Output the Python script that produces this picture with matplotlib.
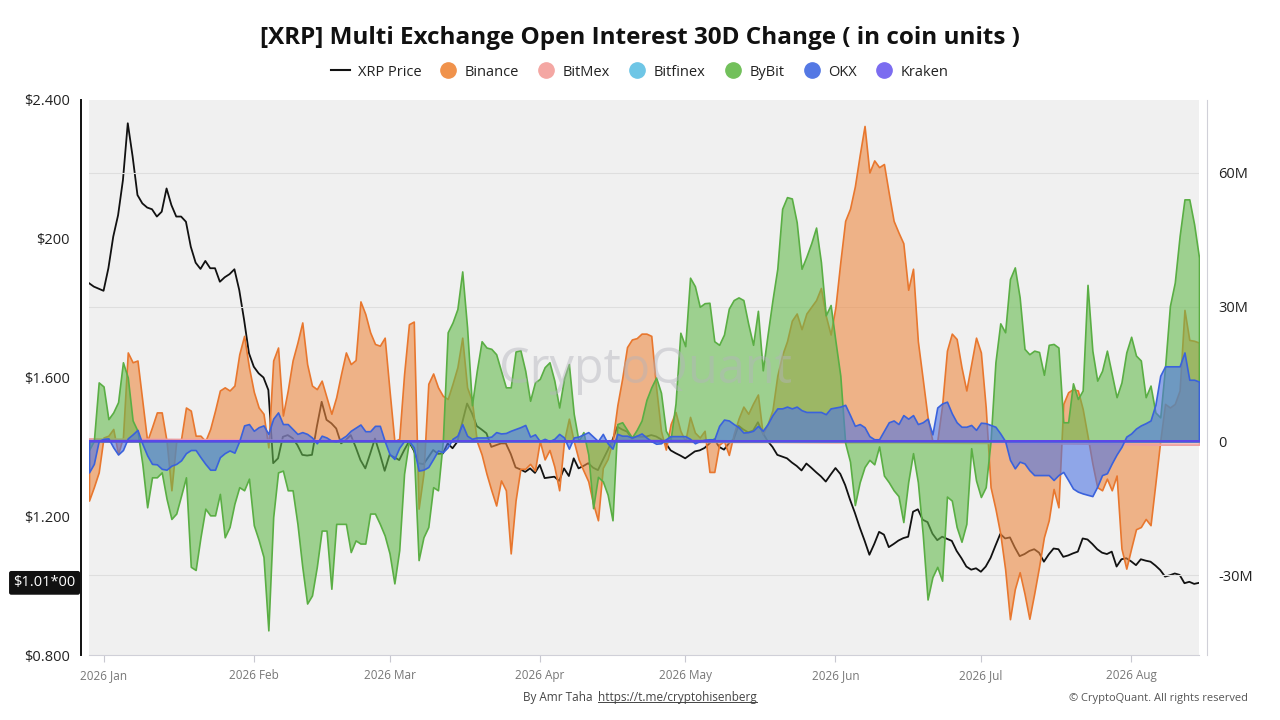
import matplotlib
matplotlib.use("Agg")
import matplotlib.pyplot as plt
import matplotlib.dates as mdates
import matplotlib.transforms as mtransforms
from matplotlib.colors import to_rgba
from matplotlib.lines import Line2D
import pandas as pd

plt.rcParams["font.family"] = ["Open Sans", "DejaVu Sans"]

# daily values, first day 2025-12-29
start = "2025-12-29"

price = [
    1.872, 1.862, 1.856, 1.850, 1.915, 2.006, 2.068, 2.169, 2.333, 2.237,
    2.126, 2.102, 2.090, 2.085, 2.064, 2.078, 2.145, 2.097, 2.064, 2.064,
    2.049, 1.977, 1.931, 1.913, 1.936, 1.915, 1.915, 1.876, 1.889, 1.898,
    1.912, 1.852, 1.766, 1.670, 1.631, 1.612, 1.600, 1.564, 1.353, 1.367,
    1.429, 1.434, 1.425, 1.405, 1.377, 1.375, 1.377, 1.458, 1.530, 1.478,
    1.468, 1.453, 1.410, 1.420, 1.434, 1.400, 1.362, 1.338, 1.380, 1.424,
    1.380, 1.331, 1.377, 1.370, 1.362, 1.390, 1.415, 1.390, 1.353, 1.350,
    1.370, 1.391, 1.380, 1.381, 1.410, 1.396, 1.415, 1.470, 1.525, 1.497,
    1.460, 1.450, 1.439, 1.400, 1.405, 1.410, 1.410, 1.380, 1.341, 1.335,
    1.328, 1.338, 1.325, 1.348, 1.310, 1.312, 1.314, 1.302, 1.338, 1.316,
    1.367, 1.338, 1.345, 1.353, 1.340, 1.333, 1.362, 1.390, 1.420, 1.458,
    1.450, 1.444, 1.424, 1.430, 1.429, 1.430, 1.434, 1.430, 1.422, 1.410,
    1.390, 1.382, 1.375, 1.367, 1.377, 1.387, 1.390, 1.397, 1.410, 1.422,
    1.400, 1.392, 1.410, 1.422, 1.461, 1.450, 1.442, 1.447, 1.471, 1.440,
    1.417, 1.400, 1.377, 1.372, 1.367, 1.355, 1.345, 1.332, 1.352, 1.340,
    1.327, 1.315, 1.300, 1.320, 1.339, 1.322, 1.290, 1.248, 1.210, 1.168,
    1.130, 1.089, 1.120, 1.155, 1.147, 1.111, 1.120, 1.130, 1.137, 1.141,
    1.213, 1.220, 1.190, 1.183, 1.150, 1.131, 1.141, 1.135, 1.129, 1.100,
    1.079, 1.055, 1.046, 1.050, 1.040, 1.055, 1.080, 1.115, 1.149, 1.136,
    1.139, 1.110, 1.085, 1.091, 1.100, 1.105, 1.095, 1.069, 1.090, 1.107,
    1.105, 1.083, 1.087, 1.093, 1.098, 1.136, 1.133, 1.120, 1.105, 1.095,
    1.091, 1.098, 1.055, 1.076, 1.079, 1.070, 1.059, 1.076, 1.072, 1.069,
    1.058, 1.045, 1.026, 1.030, 1.035, 1.031, 1.007, 1.011, 1.005, 1.008,
]

# 30D open interest change, millions of coins
binance = [
    -13.3, -10.3, -7.0, 0.8, 1.2, 2.7, -2.9, 0.8, 19.8, 17.6,
    18.0, 9.0, 0.0, 3.1, 6.4, 6.4, 0.0, -11.0, 0.0, 0.5,
    7.5, 6.8, 1.2, 1.2, 0.0, 2.7, 6.8, 11.3, 12.0, 11.3,
    12.4, 19.4, 23.5, 16.5, 11.0, 7.5, 6.1, -1.4, 18.0, 20.9,
    5.7, 11.3, 18.0, 22.0, 26.5, 17.2, 12.4, 11.6, 13.5, 9.8,
    6.1, 9.8, 15.0, 19.8, 17.2, 18.1, 31.2, 28.4, 24.3, 21.7,
    21.3, 23.1, 11.3, 0.0, 0.5, 14.9, 26.1, 26.7, -15.1, -7.3,
    12.8, 15.1, 12.0, 10.1, 9.4, 12.8, 16.5, 23.1, 12.0, 9.0,
    0.0, -3.0, -7.3, -11.0, -14.4, -8.8, -11.0, -25.1, -13.3, -6.2,
    -6.2, -5.1, -6.6, 0.0, -4.1, -2.0, -5.7, -11.0, 0.0, 5.0,
    0.0, -4.1, -6.6, -9.0, -14.0, -17.7, -6.0, -4.0, 0.0, 8.0,
    14.0, 21.0, 22.7, 23.0, 24.0, 24.0, 23.5, 12.0, 2.3, -1.9,
    3.8, 6.5, 2.3, 0.0, 5.4, 1.9, 0.8, 2.3, -6.9, -6.9,
    -0.8, 0.0, -3.1, 1.5, 5.0, 7.7, 6.1, 8.4, 10.4, 1.5,
    3.8, 6.9, 14.6, 19.2, 22.3, 26.9, 28.5, 25.0, 28.5, 30.0,
    31.5, 34.2, 28.0, 23.8, 30.0, 40.0, 49.2, 51.9, 56.9, 63.9,
    70.4, 60.0, 62.7, 61.2, 61.9, 55.4, 49.2, 46.6, 44.2, 33.8,
    38.5, 22.3, 13.9, 5.4, 0.0, 0.0, 8.0, 20.2, 24.0, 22.8,
    16.5, 11.3, 17.2, 23.1, 19.8, 7.5, -10.3, -15.1, -20.7, -28.6,
    -39.8, -33.1, -29.3, -34.1, -39.7, -34.1, -28.1, -21.5, -17.7, -10.7,
    -14.8, 8.3, 10.9, 11.6, 11.3, 7.2, 1.2, -5.0, -10.3, -11.0,
    -8.4, -11.0, -7.7, -24.0, -28.5, -24.0, -19.7, -19.2, -17.4, -18.8,
    -9.5, 0.0, 8.3, 7.5, 8.3, 11.3, 29.3, 22.6, 22.4, 22.0,
]

bybit = [
    -2.0, 0.0, 13.1, 12.2, 4.9, 6.4, 8.7, 17.6, 14.2, 4.6,
    2.3, -5.1, -14.8, -8.1, -8.1, -7.0, -12.9, -17.4, -16.2, -12.2,
    -8.1, -28.1, -28.8, -21.5, -15.1, -16.6, -16.6, -11.8, -21.5, -19.2,
    -14.0, -10.3, -11.0, -8.4, -18.8, -22.1, -25.9, -42.3, -17.0, -7.0,
    -6.6, -11.0, -11.0, -18.5, -28.1, -36.3, -34.5, -28.1, -20.0, -20.0,
    -33.0, -18.5, -18.5, -18.5, -24.8, -22.2, -22.9, -22.9, -16.2, -16.2,
    -18.5, -21.1, -25.1, -31.8, -24.4, -7.3, 0.0, -2.0, -26.6, -21.5,
    -19.2, -10.3, -11.0, 0.0, 24.3, 26.5, 29.5, 37.9, 25.4, 8.0,
    15.7, 22.3, 20.9, 20.6, 19.4, 15.7, 12.0, 12.0, 20.0, 20.3,
    15.7, 9.0, 13.1, 13.9, 16.5, 17.6, 13.5, 7.5, 14.0, 17.2,
    6.1, 0.0, 2.0, -3.0, -15.0, -8.0, -9.0, -12.0, -17.7, 3.8,
    4.2, 2.5, 0.8, 2.5, 4.6, 9.2, 12.0, 14.2, 10.8, 2.3,
    0.4, 8.4, 24.2, 21.2, 36.5, 34.6, 30.0, 30.8, 30.9, 22.3,
    21.5, 23.8, 29.6, 31.5, 32.1, 31.5, 26.2, 21.5, 29.1, 15.8,
    23.8, 31.5, 38.5, 51.9, 54.5, 54.2, 48.9, 38.5, 41.2, 44.2,
    47.7, 40.0, 28.1, 30.4, 22.3, 14.6, -0.4, -4.6, -14.3, -9.2,
    -5.8, -4.2, -5.2, -1.2, -7.7, -9.2, -11.0, -12.3, -18.1, -9.2,
    -2.7, -9.2, -20.8, -35.4, -30.4, -28.1, -31.2, -12.4, -13.3, -19.2,
    -22.5, -18.5, -1.6, -8.8, -12.5, -10.3, 0.0, 17.6, 26.3, 24.3,
    36.2, 38.8, 32.1, 20.6, 19.4, 20.2, 19.9, 14.8, 21.5, 21.7,
    20.9, 4.2, 4.2, 12.9, 9.4, 11.3, 34.9, 20.2, 13.5, 15.7,
    20.2, 15.0, 9.8, 13.1, 19.8, 23.3, 19.1, 18.0, 9.8, 12.4,
    6.4, 5.3, 16.5, 30.2, 35.4, 45.8, 54.0, 54.0, 48.4, 41.0,
]

okx = [
    -7.0, -5.1, 0.0, 0.5, 0.6, -1.4, -3.0, -2.0, 0.6, 1.5,
    2.5, -0.6, -3.2, -5.1, -5.2, -6.2, -6.4, -5.5, -5.1, -4.3,
    -2.7, -2.0, -2.0, -3.6, -5.1, -6.4, -6.4, -3.6, -2.7, -2.1,
    -2.6, 0.0, 3.5, 3.8, 2.3, 3.1, 3.5, 1.6, 5.0, 6.4,
    3.8, 3.8, 2.7, 1.6, 2.0, 1.6, 0.8, -0.5, 1.2, 0.8,
    0.1, 0.0, 0.5, 1.2, 2.3, 3.0, 3.7, 2.2, 2.2, 3.4,
    3.4, 0.0, -2.9, -4.0, -1.5, 0.0, 0.0, -1.4, -6.6, -6.4,
    -5.8, -4.0, -2.1, -2.5, -1.4, 0.5, 1.2, 3.8, 1.2, 0.5,
    0.8, 0.8, 0.8, 1.0, 2.0, 1.7, 1.8, 2.3, 2.7, 3.1,
    3.6, 1.0, 1.5, 0.0, 0.5, 0.0, 0.5, 1.6, 0.8, -1.7,
    0.8, 1.0, 1.5, 2.0, 1.0, 0.0, 1.6, -0.5, -1.7, 1.6,
    1.2, 1.2, 0.8, 1.2, 1.7, 0.8, 0.0, -0.6, -0.5, 0.4,
    1.1, 1.1, 1.1, 1.1, 0.5, -0.5, 0.0, 0.3, 0.4, 0.4,
    3.4, 4.8, 4.6, 3.8, 3.1, 1.9, 2.0, 2.3, 3.4, 2.3,
    3.8, 5.8, 7.3, 7.3, 7.7, 7.3, 7.7, 6.9, 6.5, 6.5,
    6.5, 6.5, 6.0, 7.3, 7.5, 7.7, 8.1, 5.8, 3.4, 3.8,
    3.1, 1.1, 0.4, 0.4, 2.3, 4.2, 4.6, 3.8, 5.8, 5.0,
    5.8, 3.8, 4.2, 5.0, 1.5, 7.5, 8.4, 8.8, 6.2, 4.2,
    3.2, 3.2, 3.6, 2.5, 4.1, 4.0, 3.6, 3.2, 1.7, 0.0,
    -4.2, -6.1, -4.6, -5.0, -6.5, -7.6, -7.6, -7.6, -7.6, -8.7,
    -7.6, -6.9, -8.7, -10.6, -11.3, -11.7, -12.0, -12.3, -10.2, -7.6,
    -7.2, -5.0, -3.0, -1.3, 1.0, 1.7, 2.8, 3.5, 4.0, 4.6,
    8.1, 14.6, 16.7, 16.7, 16.7, 16.7, 19.8, 13.7, 13.7, 13.3,
]

# small exchanges, read every two weeks
minor_day = [0, 14, 28, 42, 56, 70, 84, 98, 112, 126, 140, 154, 168, 182, 196, 210, 220, 229]
bitmex = [0.6, 0.5, 0.4, 0.3, 0.2, 0.1, -0.1, 0.0, -0.1, -0.2, -0.2, -0.3, -0.3, -0.4, -0.5, -0.6, -0.8, -0.8]
bitfinex = [0.1, 0.1, 0.1, 0.0, 0.0, 0.1, 0.0, 0.0, 0.0, 0.1, 0.0, 0.0, 0.1, 0.0, 0.0, 0.0, 0.0, 0.0]
kraken = [0.2, 0.2, 0.1, 0.1, 0.1, 0.1, 0.1, 0.1, 0.2, 0.2, 0.1, 0.1, 0.1, 0.1, 0.1, 0.1, 0.1, 0.1]

dates = pd.date_range(start, periods=len(price), freq="D")
minor_dates = pd.Timestamp(start) + pd.to_timedelta(minor_day, unit="D")

W, H = 1280, 720
fig = plt.figure(figsize=(12.8, 7.2), dpi=100)
ax = fig.add_axes([89 / W, 1 - 655 / H, 1110 / W, 555 / H])
ax.set_facecolor("#f0f0f0")

# price on the left axis, drawn below the areas
ax.plot(dates, price, color="#111111", lw=1.3, zorder=2)
ax.set_ylim(0.8, 2.4)
ax.set_xlim(dates[0], dates[-1])
ax.set_yticks([0.8, 1.2, 1.6, 2.0, 2.4])
ax.set_yticklabels(["$0.800", "$1.200", "$1.600", "$200", "$2.400"])
ax.tick_params(axis="y", length=0, pad=8, labelsize=10.5, labelcolor="#222222")
ax.xaxis.set_major_locator(mdates.MonthLocator())
ax.xaxis.set_major_formatter(mdates.DateFormatter("%Y %b"))
ax.tick_params(axis="x", length=5, color="#c8c8d0", pad=5, labelsize=8.5, labelcolor="#777777")
ax.spines["left"].set_position(("outward", 6))
ax.spines["left"].set_color("#111111")
ax.spines["left"].set_linewidth(1.4)
ax.spines["bottom"].set_color("#d0d0d8")
ax.spines["top"].set_visible(False)
ax.spines["right"].set_visible(False)

# open interest areas on the right axis
ax2 = ax.twinx()
ax2.set_ylim(-47.8, 76.2)
ax2.set_yticks([-30, 0, 30, 60])
ax2.set_yticklabels(["-30M", "0", "30M", "60M"])
ax2.tick_params(axis="y", length=0, pad=8, labelsize=10.5, labelcolor="#222222")
ax2.grid(axis="y", color="#dedede", lw=0.8)
ax2.set_axisbelow(True)
for s in ["left", "top", "bottom"]:
    ax2.spines[s].set_visible(False)
ax2.spines["right"].set_position(("outward", 6))
ax2.spines["right"].set_color("#d0d0d8")

areas = [
    (dates, binance, "#ee8a42", "#e8772e"),
    (minor_dates, bitmex, "#f3a3a3", "#eea0a0"),
    (minor_dates, bitfinex, "#6ec6e6", "#5bb8dc"),
    (dates, bybit, "#66bb4f", "#5aae44"),
    (dates, okx, "#4f75e3", "#3a62dc"),
    (minor_dates, kraken, "#7b68ee", "#5a48e8"),
]
for x, y, fc, ec in areas:
    ax2.fill_between(x, 0, y, facecolor=to_rgba(fc, 0.6), edgecolor=ec, lw=1.2)

# last price tag
trans = mtransforms.blended_transform_factory(ax.transAxes, ax.transData)
ax.text(-0.012, price[-1], "$1.01*00", transform=trans, ha="right", va="center",
        color="white", fontsize=10.5, clip_on=False, zorder=10,
        bbox=dict(boxstyle="round,pad=0.3,rounding_size=0.15", fc="#111111", ec="none"))

# title and legend
fig.text(0.5, 1 - 38 / H, "[XRP] Multi Exchange Open Interest 30D Change ( in coin units )",
         ha="center", va="center", fontsize=17.5, fontweight="bold", color="#111111")
handles = [Line2D([], [], color="#111111", lw=1.5, label="XRP Price")]
for name, c in [("Binance", "#f0924b"), ("BitMex", "#f4a7a3"), ("Bitfinex", "#6ec6e6"),
                ("ByBit", "#72c05b"), ("OKX", "#5478e4"), ("Kraken", "#7b6cf0")]:
    handles.append(Line2D([], [], ls="", marker="o", markersize=11, color=c, label=name))
fig.legend(handles=handles, loc="center", bbox_to_anchor=(0.5, 1 - 72 / H), ncol=7,
           frameon=False, fontsize=10.5, handlelength=1.3, handletextpad=0.5,
           columnspacing=1.2, labelcolor="#222222")

# watermark
fig.text(645 / W, 1 - 370 / H, "CryptoQuant", ha="center", va="center", fontsize=35,
         color="#b4b4bc", alpha=0.45, zorder=5)

# footer
by = fig.text(596 / W, 1 - 697 / H, "By Amr Taha ", ha="right", va="center",
              fontsize=8.5, color="#444444")
url = fig.text(598 / W, 1 - 697 / H, "https://t.me/cryptohisenberg", ha="left", va="center",
               fontsize=8.5, color="#444444")
fig.text(1248 / W, 1 - 698 / H, "© CryptoQuant. All rights reserved", ha="right", va="center",
         fontsize=8, color="#555555")
fig.canvas.draw()
bb = url.get_window_extent().transformed(fig.transFigure.inverted())
fig.add_artist(Line2D([bb.x0, bb.x1], [bb.y0 + 0.002, bb.y0 + 0.002], color="#444444", lw=0.7))

fig.savefig("out.png", dpi=100)
